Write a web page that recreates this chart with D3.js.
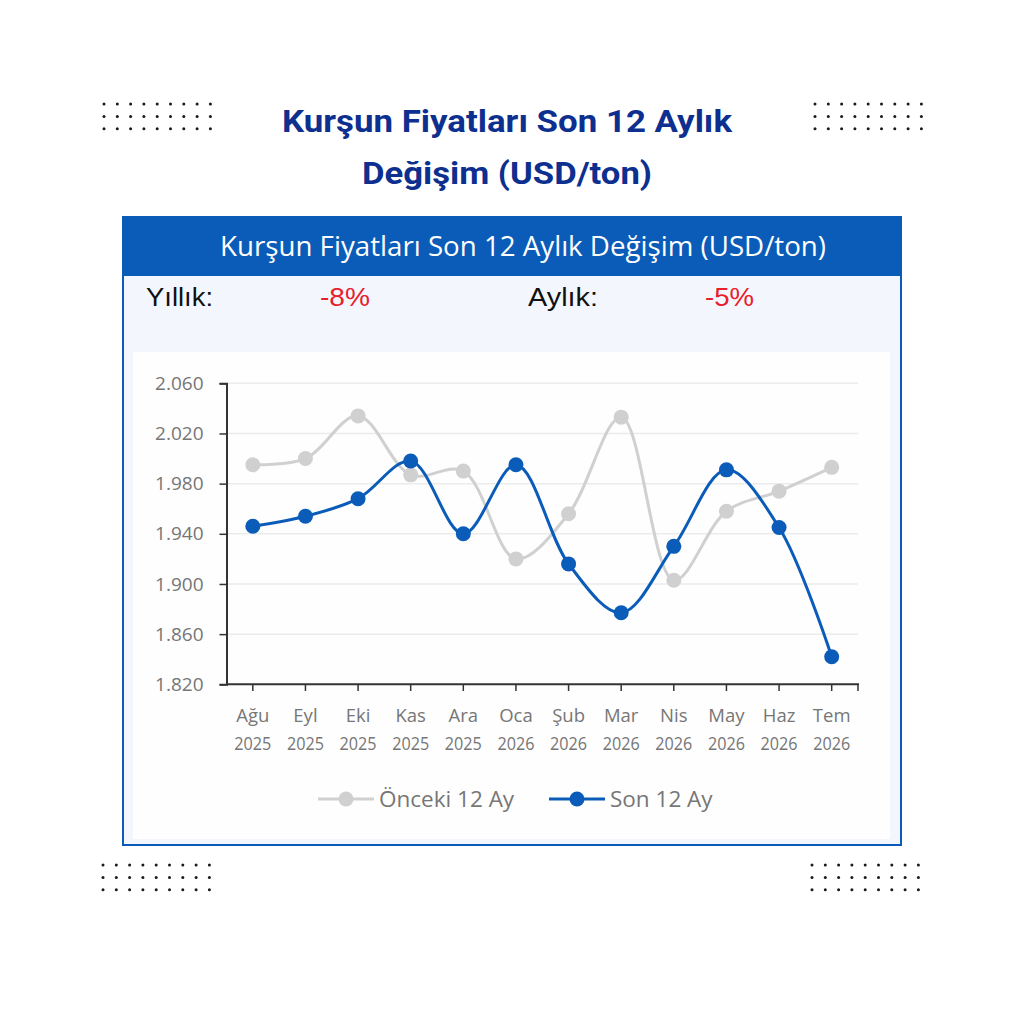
<!DOCTYPE html>
<html><head><meta charset="utf-8">
<script src="https://cdn.jsdelivr.net/npm/d3@7"></script>
<style>html,body{margin:0;padding:0;background:#fff;}svg{display:block;}</style>
</head><body>
<script>
const months = ["Ağu","Eyl","Eki","Kas","Ara","Oca","Şub","Mar","Nis","May","Haz","Tem"];
const years = ["2025","2025","2025","2025","2025","2026","2026","2026","2026","2026","2026","2026"];
const prevValues = [1995,2000,2034,1987,1990,1920,1956,2033,1903,1958,1974,1993];
const lastValues = [1946,1954,1968,1998,1940,1995,1916,1877,1930,1991,1945,1842];
const yTicks = [1820,1860,1900,1940,1980,2020,2060];
const seriesNames = ["Önceki 12 Ay","Son 12 Ay"];
const titleLines = ["Kurşun Fiyatları Son 12 Aylık","Değişim (USD/ton)"];
const headerText = "Kurşun Fiyatları Son 12 Aylık Değişim (USD/ton)";
const summary = [["Yıllık:","-8%"],["Aylık:","-5%"]];

const W=1024,H=1024;
const svg=d3.select("body").append("svg").attr("width",W).attr("height",H);
svg.append("rect").attr("width",W).attr("height",H).attr("fill","#ffffff");

// dot grids
const dotGrids=[[104,104],[815,104],[103,865],[812,865]];
dotGrids.forEach(([x0,y0])=>{
  for(let r=0;r<3;r++)for(let c=0;c<9;c++)
    svg.append("circle").attr("cx",x0+c*13.3).attr("cy",y0+r*12.4).attr("r",1.5).attr("fill","#1a1a1a");
});

// title
const navy="#0d2f8f";
svg.append("text").attr("x",507).attr("y",132).attr("text-anchor","middle")
  .attr("font-family","Roboto").attr("font-weight",700).attr("font-size",31)
  .attr("fill",navy).attr("textLength",450).attr("lengthAdjust","spacingAndGlyphs").text(titleLines[0]);
svg.append("text").attr("x",507).attr("y",184).attr("text-anchor","middle")
  .attr("font-family","Roboto").attr("font-weight",700).attr("font-size",31)
  .attr("fill",navy).attr("textLength",290).attr("lengthAdjust","spacingAndGlyphs").text(titleLines[1]);

// panel
const blue="#0a5cb8";
svg.append("rect").attr("x",123).attr("y",217).attr("width",778).attr("height",628)
  .attr("fill","#f3f7fd").attr("stroke",blue).attr("stroke-width",2);
svg.append("rect").attr("x",123).attr("y",217).attr("width",778).attr("height",59).attr("fill",blue);
svg.append("text").attr("x",523).attr("y",256).attr("text-anchor","middle")
  .attr("font-family","Open Sans").attr("font-size",27).attr("fill","#ffffff")
  .attr("textLength",606).attr("lengthAdjust","spacingAndGlyphs").text(headerText);

// summary row
const sumSpec=[[146,67,"#111"],[320,50,"#e8202a"],[528,70,"#111"],[705,49,"#e8202a"]];
const sumTexts=[summary[0][0],summary[0][1],summary[1][0],summary[1][1]];
sumTexts.forEach((t,i)=>{
  svg.append("text").attr("x",sumSpec[i][0]).attr("y",306)
    .attr("font-family","Liberation Sans").attr("font-size",25).attr("fill",sumSpec[i][2])
    .attr("textLength",sumSpec[i][1]).attr("lengthAdjust","spacingAndGlyphs").text(t);
});

// chart area
svg.append("rect").attr("x",133).attr("y",352).attr("width",757).attr("height",487).attr("fill","#fefefe");

const x=d3.scaleBand().domain(months).range([226.5,858]).padding(0);
const y=d3.scaleLinear().domain([1820,2060]).range([684.3,383.3]);
const cx=m=>x(m)+x.bandwidth()/2;

// grid
svg.append("g").selectAll("line").data(yTicks.slice(1)).join("line")
  .attr("x1",227).attr("x2",858).attr("y1",d=>y(d)).attr("y2",d=>y(d))
  .attr("stroke","#ebebeb").attr("stroke-width",1.5);

const loc=d3.formatLocale({decimal:",",thousands:".",grouping:[3],currency:["",""]});
const fmt=loc.format(",d");

// y axis
const yAxis=svg.append("g").attr("transform","translate(226.5,0)")
  .call(d3.axisLeft(y).tickValues(yTicks).tickFormat(fmt).tickSize(7).tickPadding(16));
yAxis.select(".domain").attr("stroke","#333").attr("stroke-width",2);
yAxis.selectAll(".tick line").attr("stroke","#333").attr("stroke-width",1.5);
yAxis.selectAll(".tick text").attr("font-family","Open Sans").attr("font-size",19).attr("fill","#767676");

// x axis
const xg=svg.append("g");
xg.append("line").attr("x1",226.5).attr("x2",859).attr("y1",684.3).attr("y2",684.3).attr("stroke","#333").attr("stroke-width",2);
const xt=months.map(cx).concat([858]);
xg.selectAll("line.t").data(xt).join("line").attr("class","t")
  .attr("x1",d=>d).attr("x2",d=>d).attr("y1",684.3).attr("y2",691).attr("stroke","#333").attr("stroke-width",1.5);
months.forEach((m,i)=>{
  const t=xg.append("text").attr("text-anchor","middle").attr("font-family","Open Sans")
    .attr("font-size",18.5).attr("fill","#767676");
  t.append("tspan").attr("x",cx(m)).attr("y",722).text(m);
  t.append("tspan").attr("x",cx(m)).attr("y",750).attr("textLength",37).attr("lengthAdjust","spacingAndGlyphs").text(years[i]);
});

// lines
const line=d3.line().x((d,i)=>cx(months[i])).y(d=>y(d)).curve(d3.curveCatmullRom.alpha(0.5));
const gray="#d0d0d0";
svg.append("path").attr("d",line(prevValues)).attr("fill","none").attr("stroke",gray).attr("stroke-width",3);
svg.append("g").selectAll("circle").data(prevValues).join("circle")
  .attr("cx",(d,i)=>cx(months[i])).attr("cy",d=>y(d)).attr("r",7.5).attr("fill",gray);
svg.append("path").attr("d",line(lastValues)).attr("fill","none").attr("stroke",blue).attr("stroke-width",3);
svg.append("g").selectAll("circle").data(lastValues).join("circle")
  .attr("cx",(d,i)=>cx(months[i])).attr("cy",d=>y(d)).attr("r",7.5).attr("fill",blue);

// legend
const leg=[[318,gray,seriesNames[0]],[549,blue,seriesNames[1]]];
leg.forEach(([lx,c,name])=>{
  svg.append("line").attr("x1",lx).attr("x2",lx+56).attr("y1",799).attr("y2",799).attr("stroke",c).attr("stroke-width",3);
  svg.append("circle").attr("cx",lx+28).attr("cy",799).attr("r",7.5).attr("fill",c);
  svg.append("text").attr("x",lx+61).attr("y",807).attr("font-family","Open Sans").attr("font-size",22.5)
    .attr("fill","#767676").text(name);
});
</script>
</body></html>
